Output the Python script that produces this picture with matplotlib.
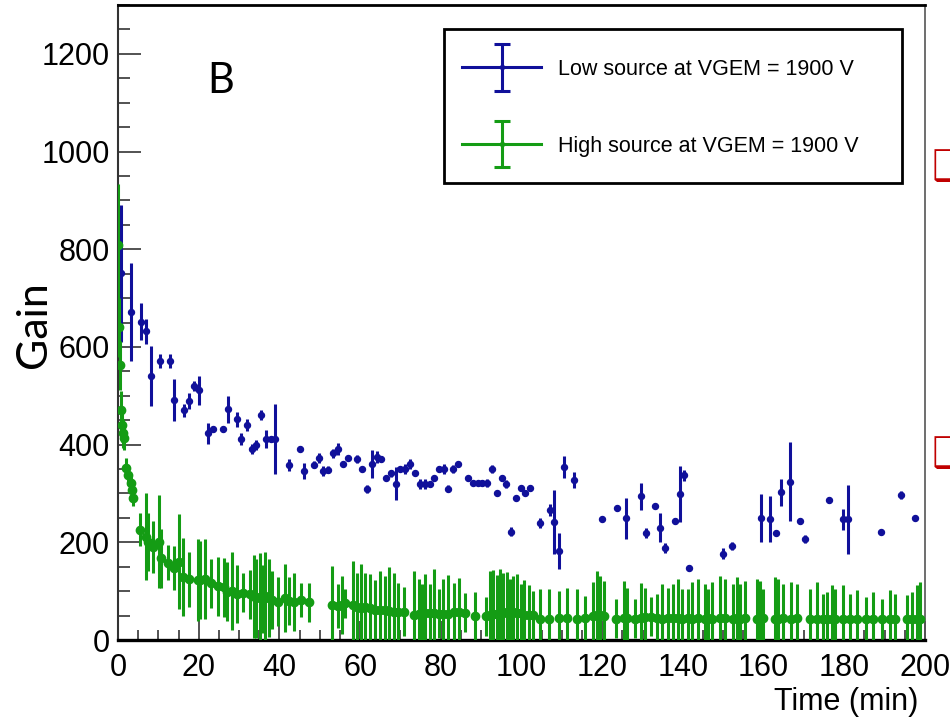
#Gain vs time for the low and high source runs at VGEM = 1900 V
import matplotlib
matplotlib.use('Agg')
import matplotlib.pyplot as plt
from matplotlib.legend_handler import HandlerErrorbar
from matplotlib.patches import Rectangle
from matplotlib.ticker import MultipleLocator

#Low source: time (min), gain, error
low_t = [0.8, 3.3, 5.6, 6.9, 8.1, 10.3, 12.8, 13.9, 16.3, 17.6, 18.8, 20.0, 22.3, 23.5, 25.9,
         27.2, 29.4, 30.6, 31.9, 33.1, 34.3, 35.4, 36.6, 37.8, 39.0, 42.5, 45.0, 46.2, 48.6,
         49.7, 50.9, 52.1, 53.4, 54.6, 55.8, 56.9, 59.3, 60.5, 61.7, 62.9, 64.1, 65.2, 66.5,
         67.6, 68.8, 70.0, 71.2, 72.4, 73.6, 74.8, 76.0, 77.2, 78.4, 79.6, 80.8, 81.9, 83.1,
         84.3, 86.8, 88.0, 89.1, 90.3, 91.4, 92.7, 93.9, 95.1, 96.2, 97.5, 98.6, 99.8, 100.9,
         102.2, 104.6, 107.0, 108.1, 109.3, 110.5, 112.9, 120.0, 123.7, 126.0, 129.6, 130.9,
         133.1, 134.4, 135.6, 138.0, 139.2, 140.3, 141.6, 149.9, 152.2, 159.3, 161.7, 163.1,
         164.2, 166.5, 168.9, 170.2, 176.1, 179.7, 180.9, 189.2, 194.0, 197.6]
low_gain = [751, 671, 652, 632, 540, 571, 571, 491, 470, 489, 520, 511, 423, 431, 431,
            472, 452, 412, 440, 391, 400, 460, 411, 411, 411, 359, 392, 346, 359,
            373, 346, 349, 382, 391, 360, 373, 371, 350, 309, 360, 374, 371, 331,
            341, 320, 350, 350, 360, 341, 320, 320, 320, 331, 350, 350, 310, 350,
            361, 331, 322, 322, 322, 322, 350, 300, 331, 320, 222, 291, 312, 300,
            312, 239, 266, 242, 182, 354, 327, 248, 271, 249, 294, 219,
            274, 230, 189, 244, 299, 337, 147, 177, 193, 250, 247, 219,
            302, 324, 243, 206, 286, 247, 247, 221, 297, 250]
low_err = [140, 100, 38, 26, 61, 14, 14, 43, 14, 16, 10, 29, 21, 3, 6,
           28, 15, 12, 12, 10, 10, 10, 18, 6, 72, 12, 6, 17, 7,
           10, 10, 8, 10, 12, 0, 0, 8, 0, 8, 28, 12, 6, 0,
           8, 34, 0, 10, 10, 0, 10, 10, 0, 0, 6, 10, 8, 8,
           0, 0, 0, 0, 6, 8, 8, 0, 6, 8, 10, 0, 0, 0,
           6, 10, 13, 65, 37, 22, 16, 0, 6, 42, 27, 10,
           0, 29, 10, 6, 57, 12, 6, 12, 8, 49, 47, 0,
           28, 81, 6, 8, 6, 21, 71, 0, 8, 0]

#High source: time (min), gain, error
high_t = [0.1, 0.3, 0.5, 0.7, 0.9, 1.2, 1.6, 2.1, 2.6, 3.1, 3.4, 3.8, 5.4, 6.9, 7.4, 8.6,
          10.2, 10.7, 12.3, 13.9, 15.0, 16.0, 17.5, 19.8, 20.3, 21.6, 23.0, 24.8, 26.2, 27.0,
          28.3, 29.5, 30.9, 32.6, 33.6, 34.3, 35.2, 35.9, 36.5, 37.5, 38.2, 39.6, 41.3, 42.3,
          43.5, 45.3, 47.3, 53.0, 54.5, 55.5, 56.2, 58.2, 59.2, 60.1, 61.3, 62.5, 63.8, 65.0,
          66.1, 67.1, 68.3, 69.4, 70.8, 73.4, 74.5, 75.3, 76.2, 77.2, 78.2, 79.6, 80.6, 81.9,
          83.3, 84.4, 86.0, 88.5, 91.2, 92.2, 93.0, 93.9, 94.7, 95.5, 96.3, 97.2, 98.0, 99.0,
          99.9, 100.7, 101.8, 102.8, 104.6, 106.9, 109.2, 111.2, 113.7, 115.7, 117.7, 118.7,
          119.5, 120.5, 123.4, 125.4, 126.2, 128.1, 129.5, 130.6, 132.2, 133.5, 134.7, 136.4,
          137.6, 138.9, 139.7, 141.3, 142.2, 143.8, 145.5, 146.3, 147.1, 149.2, 150.4, 152.5,
          153.3, 154.1, 155.4, 158.3, 159.1, 159.9, 162.8, 163.6, 164.9, 166.9, 168.2, 171.5,
          173.2, 174.8, 175.6, 176.9, 177.7, 179.8, 181.4, 183.1, 185.5, 187.2, 189.3, 191.3,
          192.6, 195.5, 196.7, 197.9, 198.8]
high_gain = [808, 640, 562, 470, 440, 423, 413, 352, 337, 321, 307, 290, 226, 211, 201, 191,
             201, 167, 158, 147, 160, 129, 124, 123, 123, 124, 116, 110, 108, 99,
             101, 94, 97, 94, 90, 85, 88, 84, 90, 86, 82, 78, 86, 80,
             78, 82, 77, 72, 70, 72, 75, 72, 67, 65, 67, 65, 62, 61,
             61, 59, 57, 57, 58, 51, 54, 54, 55, 55, 55, 54, 54, 54,
             57, 57, 56, 49, 49, 51, 54, 54, 55, 57, 55, 55, 57, 55,
             55, 52, 52, 51, 44, 44, 46, 46, 44, 46, 49, 52,
             52, 50, 44, 46, 46, 44, 46, 47, 48, 45, 44, 46,
             45, 45, 44, 45, 44, 45, 44, 45, 44, 46, 45, 44,
             45, 44, 45, 44, 46, 45, 44, 44, 45, 44, 45, 44,
             44, 44, 44, 43, 44, 43, 44, 43, 43, 43, 43, 43,
             44, 43, 43, 43, 43]
high_err = [125, 60, 50, 40, 35, 30, 25, 20, 20, 18, 15, 15, 34, 89, 60, 53,
            95, 60, 36, 45, 97, 80, 56, 84, 80, 82, 50, 60, 60, 60,
            80, 60, 40, 50, 85, 80, 90, 70, 90, 80, 60, 50, 70, 50,
            60, 35, 40, 80, 45, 60, 30, 90, 70, 90, 70, 70, 60, 80,
            70, 90, 80, 60, 50, 90, 70, 60, 80, 60, 90, 50, 70, 80,
            60, 70, 40, 50, 40, 90, 90, 80, 90, 80, 85, 70, 75, 80,
            60, 70, 60, 50, 60, 60, 55, 60, 60, 45, 70, 90,
            80, 70, 40, 75, 60, 40, 70, 60, 40, 50, 70, 60,
            70, 80, 60, 60, 75, 80, 70, 60, 75, 85, 80, 70,
            85, 70, 75, 80, 75, 60, 85, 80, 70, 75, 70, 60,
            75, 50, 55, 70, 60, 70, 50, 60, 45, 55, 40, 60,
            50, 50, 55, 70, 75]

labels = ['Low source at VGEM = 1900 V', 'High source at VGEM = 1900 V']

BLUE = '#10109a'
GREEN = '#149c14'

#Here we set the style of the plots
plt.rc('font', family=['Liberation Sans', 'DejaVu Sans'])

fig = plt.figure(figsize=(9.5, 7.23), dpi=100)
ax = fig.add_axes([118/950, 1 - 640/723, (925 - 118)/950, (640 - 5)/723])
ax.set_axisbelow(True)

#Here we draw both series
ax.errorbar(low_t, low_gain, yerr=low_err, fmt='o', color=BLUE, ms=4.3,
            elinewidth=2.2, capsize=0, zorder=3)
ax.errorbar(high_t, high_gain, yerr=high_err, fmt='o', color=GREEN, ms=6,
            elinewidth=2.2, capsize=0, zorder=4)

ax.set_xlim(0, 200)
ax.set_ylim(0, 1300)
ax.xaxis.set_major_locator(MultipleLocator(20))
ax.xaxis.set_minor_locator(MultipleLocator(5))
ax.yaxis.set_major_locator(MultipleLocator(200))
ax.yaxis.set_minor_locator(MultipleLocator(50))
ax.tick_params(axis='both', which='both', direction='in', colors='#444444',
               labelcolor='black', labelsize=22)
ax.tick_params(axis='y', which='major', length=16.5, width=1.3, pad=6)
ax.tick_params(axis='y', which='minor', length=8.5, width=1.3)
ax.tick_params(axis='x', which='major', length=14, width=1.3, pad=9)
ax.tick_params(axis='x', which='minor', length=7, width=1.3)

ax.spines['left'].set_color('#333333')
ax.spines['left'].set_linewidth(1.5)
ax.spines['right'].set_color('#555555')
ax.spines['right'].set_linewidth(1.2)
ax.spines['top'].set_linewidth(2.0)
ax.spines['bottom'].set_linewidth(2.4)

#Legend: frame drawn by hand, entries with error bar glyphs
fig.patches.append(Rectangle((444/950, 1 - 183/723), (902 - 444)/950, (183 - 29)/723,
                             transform=fig.transFigure, fill=False,
                             edgecolor='black', linewidth=2.0))
h_low = ax.errorbar([-50], [-50], yerr=[10], fmt='o-', color=BLUE, ms=3, lw=2.2,
                    elinewidth=2.2, capsize=5.8, capthick=2.2)
h_high = ax.errorbar([-50], [-50], yerr=[10], fmt='o-', color=GREEN, ms=3, lw=2.2,
                     elinewidth=2.2, capsize=5.8, capthick=2.2)
leg = fig.legend([h_low, h_high], labels, loc='upper left',
                 bbox_to_anchor=(462/950, 1 - 59/723), borderaxespad=0, borderpad=0,
                 fontsize=15.5, handlelength=3.67, handletextpad=0.8,
                 labelspacing=2.6, frameon=False,
                 handler_map={type(h_low): HandlerErrorbar(yerr_size=1.07)})

#Here we add the labels
fig.text(34/950, 1 - 325/723, 'Gain', rotation=90, ha='center', va='center',
         fontsize=31, family=['Lato', 'DejaVu Sans'])
fig.text(207/950, 1 - 93/723, 'B', ha='left', va='baseline',
         fontsize=30, family=['Lato', 'DejaVu Sans'])
fig.text(918/950, 1 - 710/723, 'Time (min)', ha='right', va='baseline', fontsize=22)

#Cut-off bullets from the slide on the right
for yb in [168, 455]:
    fig.text(932/950, 1 - yb/723, '\u2751', color='#c00000', fontsize=30,
             ha='left', va='center', family=['DejaVu Sans'])

fig.savefig('out.png', dpi=100)
